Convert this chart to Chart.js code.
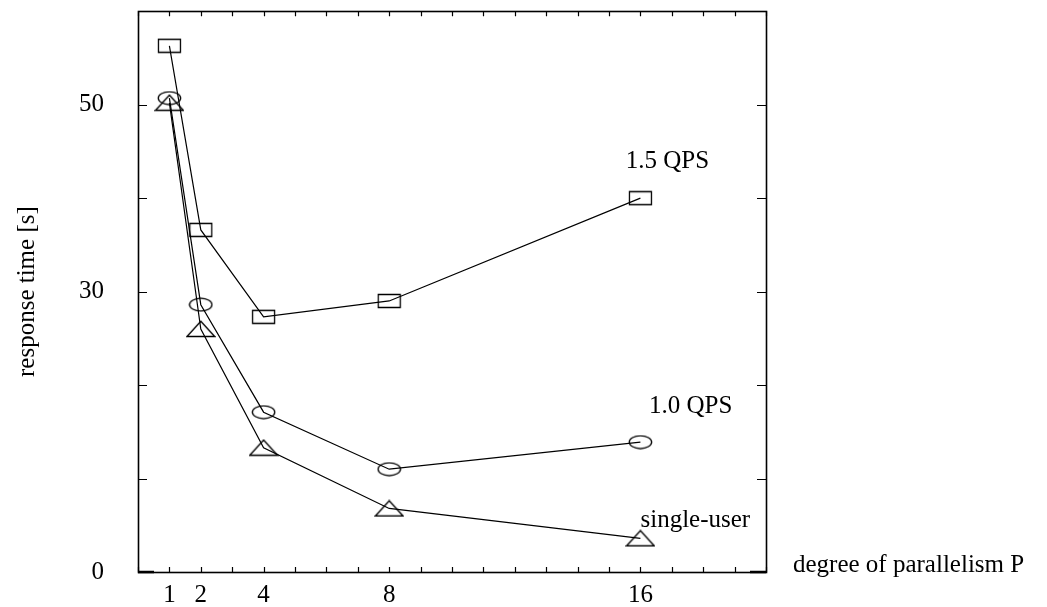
<!DOCTYPE html>
<html><head><meta charset="utf-8">
<script src="https://cdn.jsdelivr.net/npm/chart.js@4/dist/chart.umd.min.js"></script>
<style>html,body{margin:0;padding:0;background:#fff;overflow:hidden;}</style>
</head><body>
<canvas id="c" width="1047" height="607"></canvas>
<script>
// ---- data ----
const xValues = [1, 2, 4, 8, 16];
const qps15 = [56.3, 36.6, 27.3, 29.0, 40.0];
const qps10 = [50.7, 28.6, 17.1, 11.0, 13.9];
const singleUser = [50.2, 26.0, 13.3, 6.8, 3.6];
const seriesNames = ['1.5 QPS', '1.0 QPS', 'single-user'];
const xTickLabels = [1, 2, 4, 8, 16];
const yTickLabels = [0, 30, 50];
const xAxisTitle = 'degree of parallelism P';
const yAxisTitle = 'response time [s]';

const FONT = '"Liberation Serif", "Times New Roman", serif';

function makeMarker(kind) {
  const c = document.createElement('canvas');
  let w, h;
  if (kind === 'tri') { w = 30; h = 18; } else if (kind === 'rect') { w = 25; h = 16; } else { w = 25; h = 15; }
  c.width = w; c.height = h;
  const g = c.getContext('2d');
  g.strokeStyle = '#000'; g.lineWidth = 1.3;
  g.beginPath();
  if (kind === 'rect') {
    g.rect(1.5, 1.5, w - 3, h - 3);
  } else if (kind === 'ell') {
    g.ellipse(w / 2, h / 2, w / 2 - 1.3, h / 2 - 1.2, 0, 0, Math.PI * 2);
  } else {
    g.moveTo(w / 2, 1.2); g.lineTo(w - 1.2, h - 1.5); g.lineTo(1.2, h - 1.5); g.closePath();
  }
  g.stroke();
  return c;
}

const toPts = (ys) => xValues.map((x, i) => ({ x: x, y: ys[i] }));

const labelAnchors = [
  { text: seriesNames[0], x: 16.86, y: 43.2 },
  { text: seriesNames[1], x: 17.6, y: 17.05 },
  { text: seriesNames[2], x: 17.75, y: 4.85 }
];

const framePlugin = {
  id: 'frame',
  beforeDatasetsDraw(chart) {
    const { ctx, chartArea: a, scales } = chart;
    const xs = scales.x, ys = scales.y;
    ctx.save();
    ctx.strokeStyle = '#000';
    ctx.lineWidth = 1.2;
    ctx.beginPath();
    xs.ticks.forEach(t => {
      const px = Math.round(xs.getPixelForValue(t.value)) + 0.5;
      ctx.moveTo(px, a.bottom); ctx.lineTo(px, a.bottom - 5);
      ctx.moveTo(px, a.top); ctx.lineTo(px, a.top + 5);
    });
    ys.ticks.forEach(t => {
      const py = Math.round(ys.getPixelForValue(t.value)) + 0.5;
      ctx.moveTo(a.left, py); ctx.lineTo(a.left + 9, py);
      ctx.moveTo(a.right, py); ctx.lineTo(a.right - 9, py);
    });
    ctx.stroke();
    ctx.lineWidth = 1.6;
    ctx.strokeRect(Math.round(a.left) + 0.5, Math.round(a.top) + 0.5, Math.round(a.right - a.left), Math.round(a.bottom - a.top));
    ctx.lineWidth = 2.6;
    ctx.beginPath();
    ctx.moveTo(a.left, a.bottom); ctx.lineTo(a.left + 16, a.bottom);
    ctx.moveTo(a.right, a.bottom); ctx.lineTo(a.right - 16, a.bottom);
    ctx.stroke();
    ctx.restore();
  },
  afterDraw(chart) {
    const { ctx, chartArea: a, scales } = chart;
    ctx.save();
    ctx.fillStyle = '#000';
    ctx.font = '25px ' + FONT;
    ctx.textAlign = 'center';
    ctx.textBaseline = 'alphabetic';
    labelAnchors.forEach(l => {
      ctx.fillText(l.text, scales.x.getPixelForValue(l.x), scales.y.getPixelForValue(l.y));
    });
    ctx.textAlign = 'left';
    ctx.fillText(xAxisTitle, a.right + 27, a.bottom);
    ctx.restore();
  }
};

const common = { borderColor: '#000', borderWidth: 1.2, fill: false, tension: 0, pointRadius: 10, pointHoverRadius: 10 };
const noPad = s => { s.paddingTop = 0; s.paddingBottom = 0; s.paddingLeft = 0; s.paddingRight = 0; };

new Chart(document.getElementById('c'), {
  type: 'line',
  data: {
    datasets: [
      Object.assign({ label: seriesNames[0], data: toPts(qps15), pointStyle: makeMarker('rect') }, common),
      Object.assign({ label: seriesNames[1], data: toPts(qps10), pointStyle: makeMarker('ell') }, common),
      Object.assign({ label: seriesNames[2], data: toPts(singleUser), pointStyle: makeMarker('tri') }, common)
    ]
  },
  options: {
    responsive: false,
    animation: false,
    devicePixelRatio: 1,
    layout: { padding: { top: 8, right: 281, left: 0, bottom: 0 } },
    plugins: { legend: { display: false }, tooltip: { enabled: false } },
    scales: {
      x: {
        type: 'linear', min: 0, max: 20,
        grid: { display: false, drawTicks: false, tickLength: 0 },
        border: { display: false },
        ticks: {
          stepSize: 1, autoSkip: false, maxRotation: 0, padding: 8,
          color: '#000', font: { family: FONT, size: 25 },
          callback: v => xTickLabels.includes(v) ? String(v) : ''
        },
        afterFit: s => { s.height = 35; noPad(s); }
      },
      y: {
        type: 'linear', min: 0, max: 60,
        grid: { display: false, drawTicks: false, tickLength: 0 },
        border: { display: false },
        ticks: {
          stepSize: 10, autoSkip: false, padding: 34,
          color: '#000', font: { family: FONT, size: 25 },
          callback: v => yTickLabels.includes(v) ? String(v) : ''
        },
        title: { display: true, text: yAxisTitle, color: '#000', font: { family: FONT, size: 25 }, padding: { top: 12, bottom: 0 } },
        afterFit: s => { s.width = 138; noPad(s); }
      }
    }
  },
  plugins: [framePlugin]
});
</script>
</body></html>
